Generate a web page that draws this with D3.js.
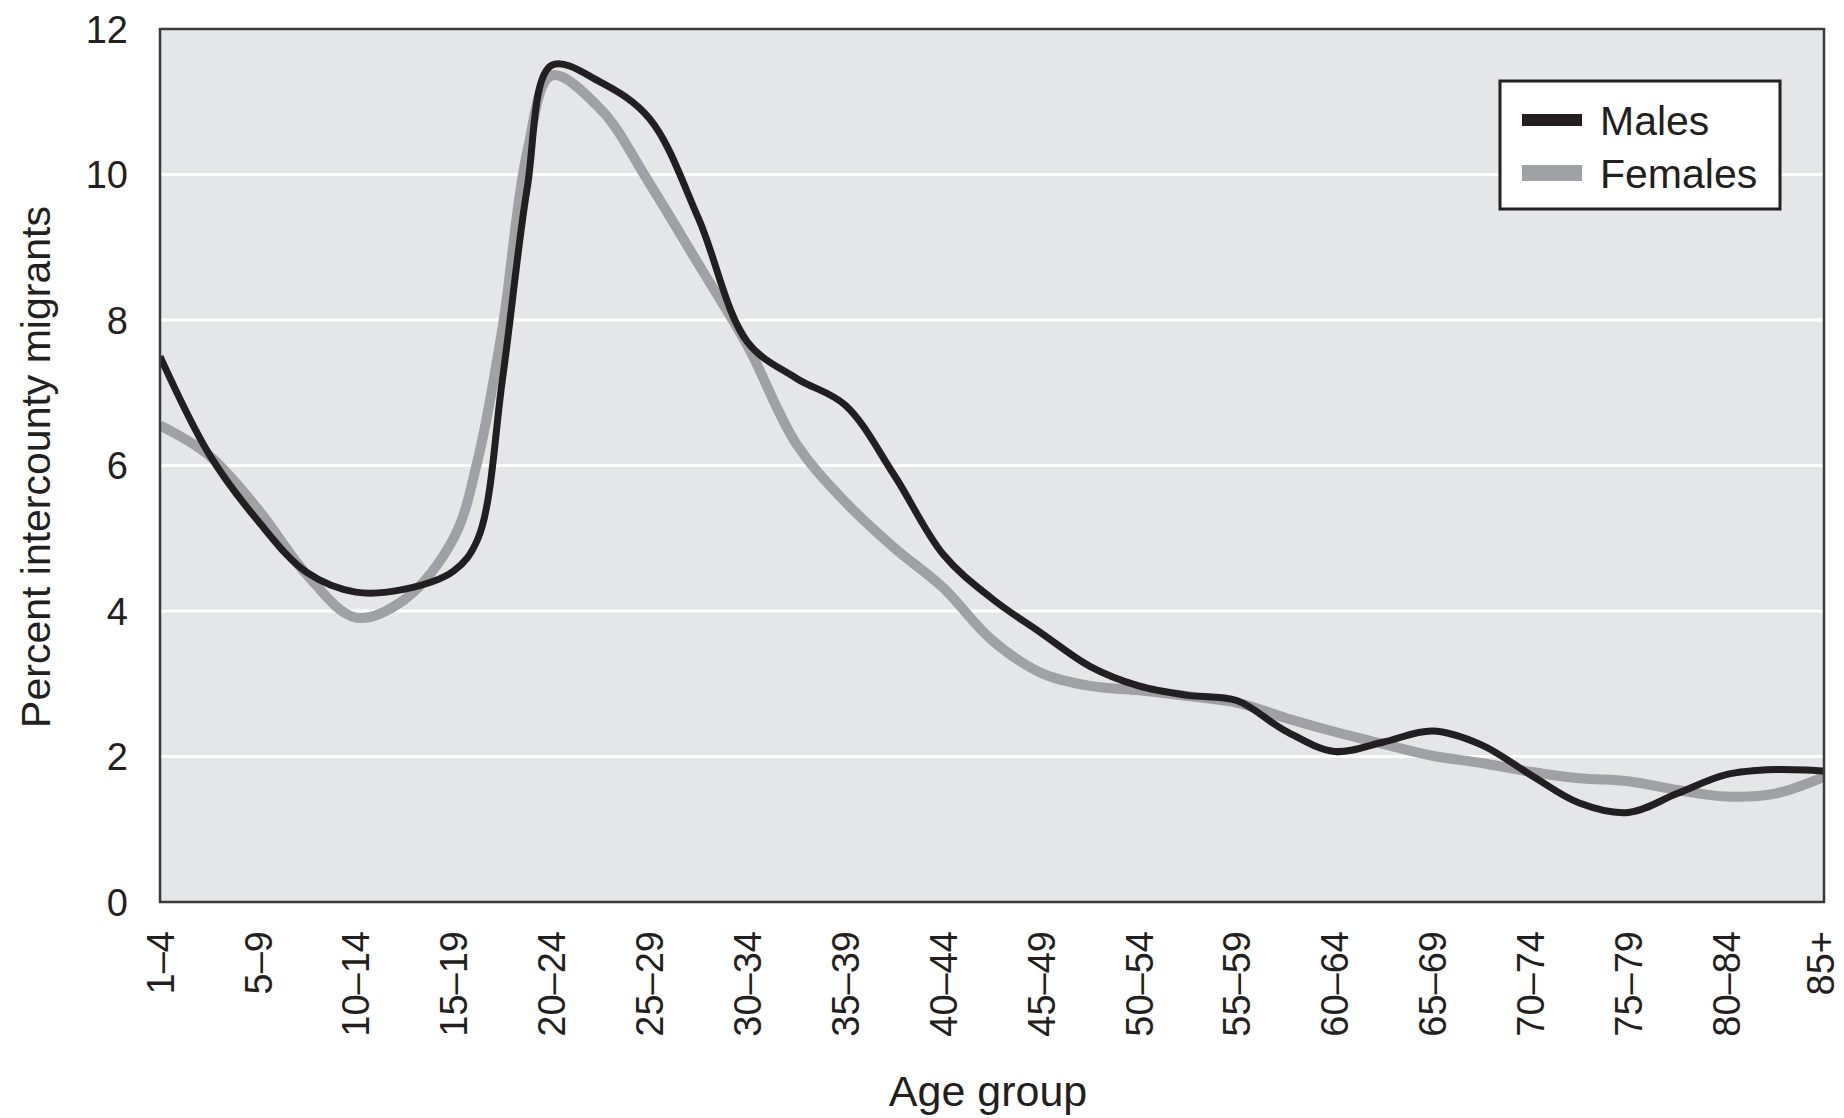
<!DOCTYPE html>
<html>
<head>
<meta charset="utf-8">
<script src="https://cdn.jsdelivr.net/npm/d3@7"></script>
<style>
    body { margin: 0; background: #fff; }
    svg text { font-family: "Liberation Sans", Arial, Helvetica, sans-serif; fill: #231f20; }
</style>
</head>
<body>
<div id="chart"></div>
<script>
// Age groups on the x axis
const ageGroups = ['1–4', '5–9', '10–14', '15–19', '20–24', '25–29', '30–34', '35–39', '40–44',
    '45–49', '50–54', '55–59', '60–64', '65–69', '70–74', '75–79', '80–84', '85+'];

const samplePos = [0, 0.5, 1, 1.5, 2, 2.5, 3, 3.25, 3.5, 3.75, 4, 4.5, 5, 5.5, 6, 6.5, 7, 7.5, 8, 8.5,
    9, 9.5, 10, 10.5, 11, 11.5, 12, 12.5, 13, 13.5, 14, 14.5, 15, 15.5, 16, 16.5, 17];

const males = [7.5, 6.16, 5.24, 4.53, 4.26, 4.3, 4.55, 5.0, 7.2, 9.8, 11.5, 11.27, 10.77, 9.4, 7.7, 7.2,
    6.83, 5.87, 4.78, 4.17, 3.7, 3.24, 2.97, 2.84, 2.77, 2.35, 2.07, 2.2, 2.35, 2.16,
    1.75, 1.36, 1.23, 1.49, 1.75, 1.82, 1.8];

const females = [6.55, 6.14, 5.4, 4.5, 3.91, 4.16, 5.0, 6.1, 7.9, 10.3, 11.36, 10.9, 9.88, 8.77, 7.65, 6.3,
    5.5, 4.87, 4.32, 3.6, 3.15, 2.97, 2.91, 2.83, 2.74, 2.53, 2.34, 2.17, 2.01, 1.91,
    1.79, 1.7, 1.66, 1.54, 1.45, 1.49, 1.72];

const yTicks = [0, 2, 4, 6, 8, 10, 12];
const gridValues = [2, 4, 6, 8, 10];

const legendItems = [
    { name: 'Males', color: '#231f20', width: 12 },
    { name: 'Females', color: '#a0a1a4', width: 16 }
];

// layout
const width = 1844, height = 1118;
const plot = { left: 160, right: 1824, top: 29, bottom: 902 };

const svg = d3.select('#chart').append('svg')
    .attr('width', width)
    .attr('height', height);

const xScale = d3.scaleLinear()
    .domain([0, ageGroups.length - 1])
    .range([plot.left, plot.right]);

const yScale = d3.scaleLinear()
    .domain([0, 12])
    .range([plot.bottom, plot.top]);

// plot background
svg.append('rect')
    .attr('x', plot.left)
    .attr('y', plot.top)
    .attr('width', plot.right - plot.left)
    .attr('height', plot.bottom - plot.top)
    .style('fill', '#e5e6e8');

// white gridlines
svg.selectAll('.grid')
    .data(gridValues)
    .enter()
    .append('line')
    .attr('class', 'grid')
    .attr('x1', plot.left)
    .attr('x2', plot.right)
    .attr('y1', d => yScale(d))
    .attr('y2', d => yScale(d))
    .style('stroke', '#fff')
    .style('stroke-width', 3);

// curves
const line = d3.line()
    .x((d, i) => xScale(samplePos[i]))
    .y(d => yScale(d))
    .curve(d3.curveCatmullRom.alpha(0.5));

svg.append('clipPath').attr('id', 'plot-clip')
    .append('rect')
    .attr('x', plot.left)
    .attr('y', plot.top)
    .attr('width', plot.right - plot.left)
    .attr('height', plot.bottom - plot.top);

svg.append('path')
    .datum(females)
    .attr('clip-path', 'url(#plot-clip)')
    .attr('d', line)
    .style('fill', 'none')
    .style('stroke', '#a0a1a4')
    .style('stroke-width', 10)
    .style('stroke-linejoin', 'round');

svg.append('path')
    .datum(males)
    .attr('clip-path', 'url(#plot-clip)')
    .attr('d', line)
    .style('fill', 'none')
    .style('stroke', '#231f20')
    .style('stroke-width', 7)
    .style('stroke-linejoin', 'round');

// frame
svg.append('rect')
    .attr('x', plot.left)
    .attr('y', plot.top)
    .attr('width', plot.right - plot.left)
    .attr('height', plot.bottom - plot.top)
    .style('fill', 'none')
    .style('stroke', '#3a3a3a')
    .style('stroke-width', 2.5);

// y axis labels
svg.selectAll('.y-label')
    .data(yTicks)
    .enter()
    .append('text')
    .attr('class', 'y-label')
    .attr('x', 128)
    .attr('y', d => yScale(d))
    .attr('dy', '0.36em')
    .attr('text-anchor', 'end')
    .style('font-size', '38px')
    .text(d => d);

// x axis labels (rotated), last one pulled in a little so it stays on the page
svg.selectAll('.x-label')
    .data(ageGroups)
    .enter()
    .append('text')
    .attr('class', 'x-label')
    .attr('transform', (d, i) => {
        const x = i === ageGroups.length - 1 ? xScale(i) - 4 : xScale(i);
        return `translate(${x},931) rotate(-90)`;
    })
    .attr('dy', '0.36em')
    .attr('text-anchor', 'end')
    .style('font-size', '38px')
    .text(d => d);

// axis titles
svg.append('text')
    .attr('transform', 'translate(35,467) rotate(-90)')
    .attr('dy', '0.36em')
    .attr('text-anchor', 'middle')
    .style('font-size', '41px')
    .text('Percent intercounty migrants');

svg.append('text')
    .attr('x', 988)
    .attr('y', 1106)
    .attr('text-anchor', 'middle')
    .style('font-size', '43px')
    .text('Age group');

// legend
const legend = svg.append('g');
legend.append('rect')
    .attr('x', 1500)
    .attr('y', 81)
    .attr('width', 280)
    .attr('height', 128)
    .style('fill', '#fff')
    .style('stroke', '#231f20')
    .style('stroke-width', 3);

const legendRow = legend.selectAll('.legend-row')
    .data(legendItems)
    .enter()
    .append('g')
    .attr('class', 'legend-row')
    .attr('transform', (d, i) => `translate(0,${120 + i * 53})`);

legendRow.append('line')
    .attr('x1', 1522)
    .attr('x2', 1582)
    .style('stroke', d => d.color)
    .style('stroke-width', d => d.width);

legendRow.append('text')
    .attr('x', 1600)
    .attr('dy', '0.36em')
    .style('font-size', '41px')
    .text(d => d.name);
</script>
</body>
</html>
